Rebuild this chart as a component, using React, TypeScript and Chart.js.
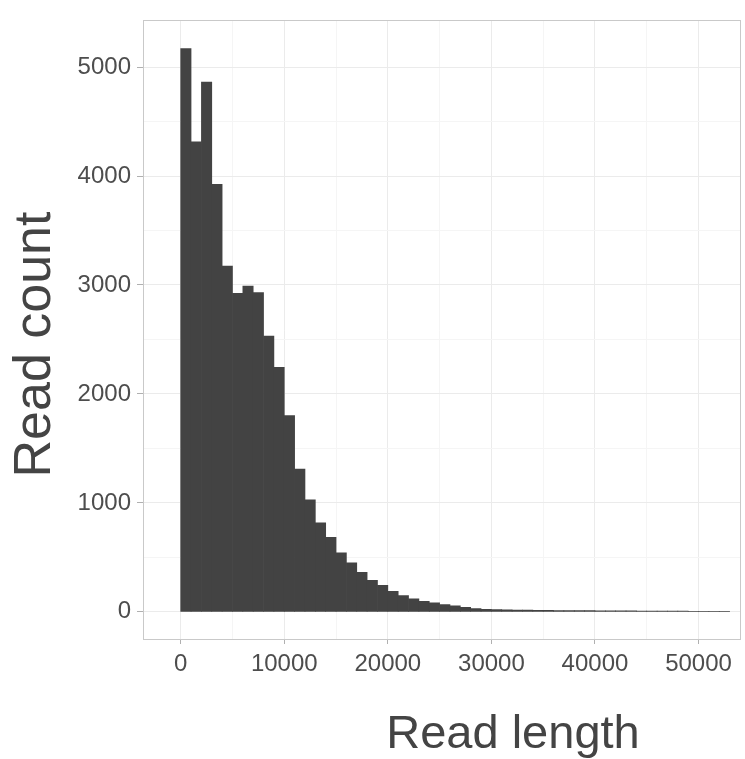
import React, { useEffect, useRef } from 'react';
import { Chart, registerables } from 'chart.js';

Chart.register(...registerables);

// Histogram bins (lower edge of each 1000-wide bin) and read counts
const binStarts = [
  0, 1000, 2000, 3000, 4000, 5000, 6000, 7000, 8000, 9000,
  10000, 11000, 12000, 13000, 14000, 15000, 16000, 17000, 18000, 19000,
  20000, 21000, 22000, 23000, 24000, 25000, 26000, 27000, 28000, 29000,
  30000, 31000, 32000, 33000, 34000, 35000, 36000, 37000, 38000, 39000,
  40000, 41000, 42000, 43000, 44000, 45000, 46000, 47000, 48000, 49000,
  50000, 51000, 52000,
];
const readCounts = [
  5170, 4313, 4863, 3923, 3174, 2924, 2991, 2930, 2532, 2245,
  1802, 1311, 1029, 816, 684, 541, 449, 363, 290, 244,
  189, 150, 119, 97, 82, 67, 55, 42, 30, 24,
  20, 18, 17, 15, 14, 13, 12, 12, 11, 11,
  10, 10, 9, 9, 8, 8, 7, 6, 6, 5,
  5, 4, 3,
];
const BIN_WIDTH = 1000;

const xMajorTicks = [0, 10000, 20000, 30000, 40000, 50000];
const xMinorTicks = [5000, 15000, 25000, 35000, 45000];
const xTickLabels = ['0', '10000', '20000', '30000', '40000', '50000'];
const yMajorTicks = [0, 1000, 2000, 3000, 4000, 5000];
const yMinorTicks = [500, 1500, 2500, 3500, 4500];
const yTickLabels = ['0', '1000', '2000', '3000', '4000', '5000'];

const xTitle = 'Read length';
const yTitle = 'Read count';

const FONT = '"Liberation Sans", Arial, Helvetica, sans-serif';
const W = 745;
const H = 759;

export default function App() {
  const ref = useRef<HTMLCanvasElement | null>(null);

  useEffect(() => {
    if (!ref.current) return;
    const framePlugin = {
      id: 'frameAndTitles',
      afterDraw(chart: any) {
        const { ctx, chartArea } = chart;
        ctx.save();
        ctx.strokeStyle = '#c9c9c9';
        ctx.lineWidth = 1;
        ctx.strokeRect(
          Math.round(chartArea.left) + 0.5,
          Math.round(chartArea.top) + 0.5,
          Math.round(chartArea.right - chartArea.left) - 1,
          Math.round(chartArea.bottom - chartArea.top) - 1
        );
        ctx.fillStyle = '#444444';
        ctx.textAlign = 'center';
        ctx.textBaseline = 'alphabetic';
        ctx.font = `47px ${FONT}`;
        ctx.fillText(xTitle, 513, 748);
        ctx.translate(50, 344.5);
        ctx.rotate(-Math.PI / 2);
        ctx.font = `52px ${FONT}`;
        ctx.fillText(yTitle, 0, 0);
        ctx.restore();
      },
    };

    const chart = new Chart(ref.current, {
      type: 'bar',
      data: {
        datasets: [
          {
            data: binStarts.map((s, i) => ({ x: s + BIN_WIDTH / 2, y: readCounts[i] })),
            backgroundColor: '#434343',
            borderWidth: 0,
            barPercentage: 1,
            categoryPercentage: 1,
          } as any,
        ],
      },
      options: {
        animation: false,
        responsive: false,
        devicePixelRatio: 1,
        layout: { padding: { top: 20, right: 4, left: 0, bottom: 0 } },
        plugins: { legend: { display: false }, tooltip: { enabled: false } },
        scales: {
          x: {
            type: 'linear',
            offset: false,
            min: -3640,
            max: 54100,
            afterBuildTicks: (s: any) => {
              s.ticks = [...xMajorTicks, ...xMinorTicks].sort((a, b) => a - b).map((v) => ({ value: v }));
            },
            afterFit: (s: any) => {
              s.height = H - 640;
            },
            ticks: {
              autoSkip: false,
              maxRotation: 0,
              padding: 6,
              color: '#4d4d4d',
              font: { family: FONT, size: 24 },
              callback: (v: any) => {
                const i = xMajorTicks.indexOf(Number(v));
                return i >= 0 ? xTickLabels[i] : '';
              },
            },
            grid: {
              offset: false,
              color: (c: any) => (xMajorTicks.includes(c.tick?.value) ? '#ebebeb' : '#f5f5f5'),
              tickColor: (c: any) => (xMajorTicks.includes(c.tick?.value) ? '#b0b0b0' : 'rgba(0,0,0,0)'),
              tickLength: 4,
              lineWidth: 1,
            },
            border: { display: false },
          },
          y: {
            type: 'linear',
            min: -258.5,
            max: 5428.5,
            afterBuildTicks: (s: any) => {
              s.ticks = [...yMajorTicks, ...yMinorTicks].sort((a, b) => a - b).map((v) => ({ value: v }));
            },
            afterFit: (s: any) => {
              s.width = 143;
            },
            ticks: {
              autoSkip: false,
              padding: 6,
              color: '#4d4d4d',
              font: { family: FONT, size: 24 },
              callback: (v: any) => {
                const i = yMajorTicks.indexOf(Number(v));
                return i >= 0 ? yTickLabels[i] : '';
              },
            },
            grid: {
              color: (c: any) => (yMajorTicks.includes(c.tick?.value) ? '#ebebeb' : '#f5f5f5'),
              tickColor: (c: any) => (yMajorTicks.includes(c.tick?.value) ? '#b0b0b0' : 'rgba(0,0,0,0)'),
              tickLength: 6,
              lineWidth: 1,
            },
            border: { display: false },
          },
        },
      },
      plugins: [framePlugin],
    });
    return () => chart.destroy();
  }, []);

  return (
    <div style={{ position: 'absolute', left: 0, top: 0, width: W, height: H, background: '#fff' }}>
      <canvas ref={ref} width={W} height={H} style={{ display: 'block' }} />
    </div>
  );
}
